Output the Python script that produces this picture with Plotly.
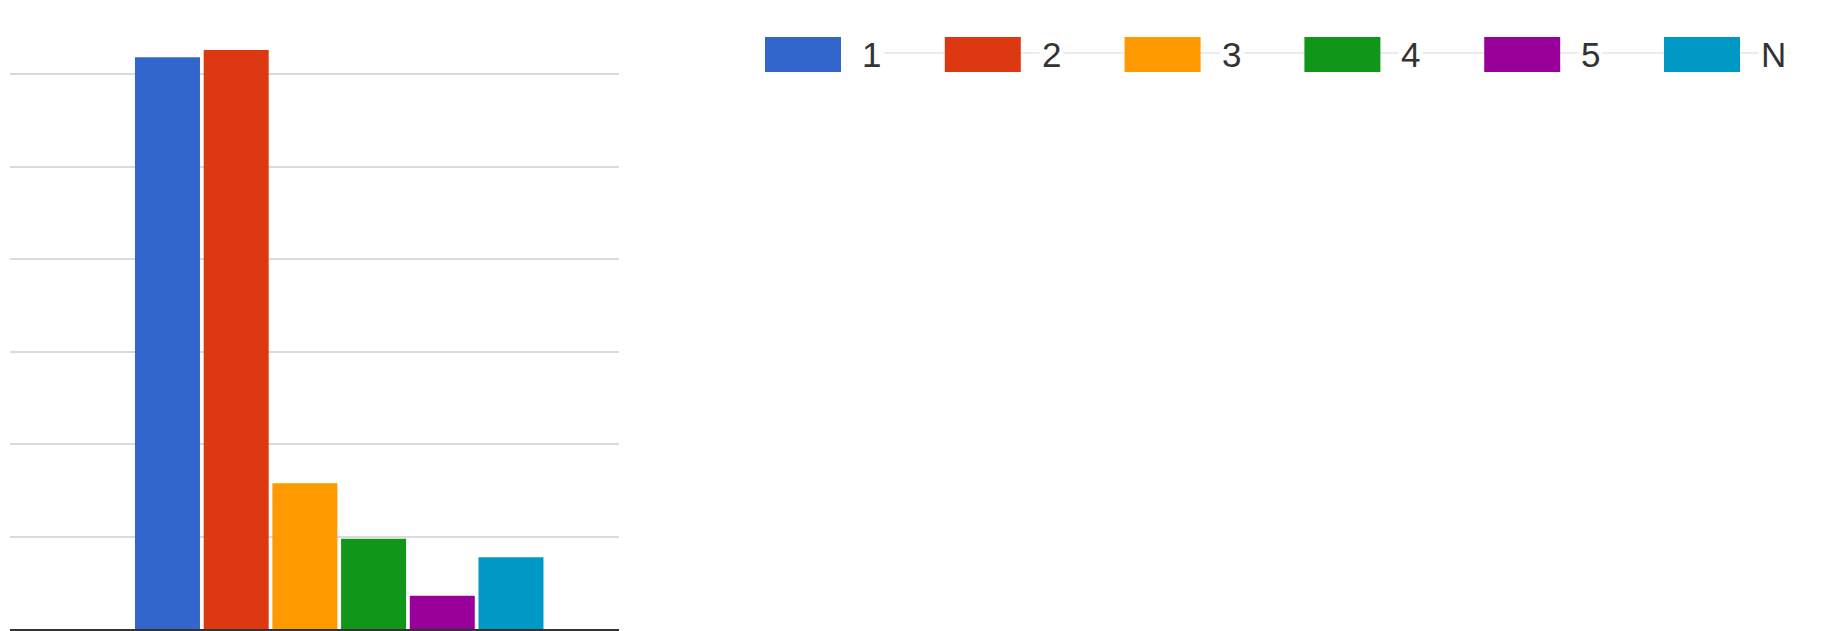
import plotly.graph_objects as go

# ---- data ----
category = ["Responses"]
series_names = ["1", "2", "3", "4", "5", "N"]
series_values = [154.5, 156.5, 39.4, 24.4, 9.0, 19.4]
series_colors = ["#3366cc", "#dc3912", "#ff9900", "#109618", "#990099", "#0099c6"]

W, H = 1827, 631
ML, MR, MT, MB = 10, W - 619, 0, 2
PW, PH = W - ML - MR, H - MT - MB


def px_x(px):
    return (px - ML) / PW


def px_y(py):
    return (H - MB - py) / PH


fig = go.Figure()
for name, val, col in zip(series_names, series_values, series_colors):
    fig.add_trace(go.Bar(x=category, y=[val], name=name, marker=dict(color=col, line=dict(width=0)),
                         showlegend=False, hoverinfo="name+y"))

shapes = []
annotations = []
# faint connector line behind legend
shapes.append(dict(type="line", xref="paper", yref="paper", x0=px_x(862), x1=px_x(1790),
                   y0=px_y(53), y1=px_y(53), line=dict(color="#e6e6e6", width=1.5), layer="above"))
pitch = 179.8
for i, (name, col) in enumerate(zip(series_names, series_colors)):
    x0 = 765 + i * pitch
    shapes.append(dict(type="rect", xref="paper", yref="paper", x0=px_x(x0), x1=px_x(x0 + 76),
                       y0=px_y(72), y1=px_y(37), fillcolor=col, line=dict(width=0), layer="above"))
    annotations.append(dict(text=name, xref="paper", yref="paper", x=px_x(x0 + 94), y=px_y(55),
                            xanchor="left", yanchor="middle", showarrow=False, bgcolor="white",
                            borderpad=2, font=dict(size=35, color="#333333", family="Arial, Liberation Sans")))

fig.update_layout(
    width=W, height=H,
    margin=dict(l=ML, r=MR, t=MT, b=MB, pad=0),
    paper_bgcolor="white", plot_bgcolor="white",
    barmode="group", bargap=0.2, bargroupgap=0.054,
    showlegend=False,
    xaxis=dict(type="category", range=[-0.639, 0.543], showticklabels=False, showgrid=False,
               showline=True, linecolor="#333333", linewidth=2, ticks="", zeroline=False),
    yaxis=dict(range=[0, 170], dtick=25, showticklabels=False, showgrid=True, gridcolor="#dadada",
               gridwidth=2, zeroline=False, ticks=""),
    shapes=shapes, annotations=annotations,
)

fig.write_html("out.html", config={"displayModeBar": False},
               post_script="document.body.style.margin='0';document.body.style.overflow='hidden';")
